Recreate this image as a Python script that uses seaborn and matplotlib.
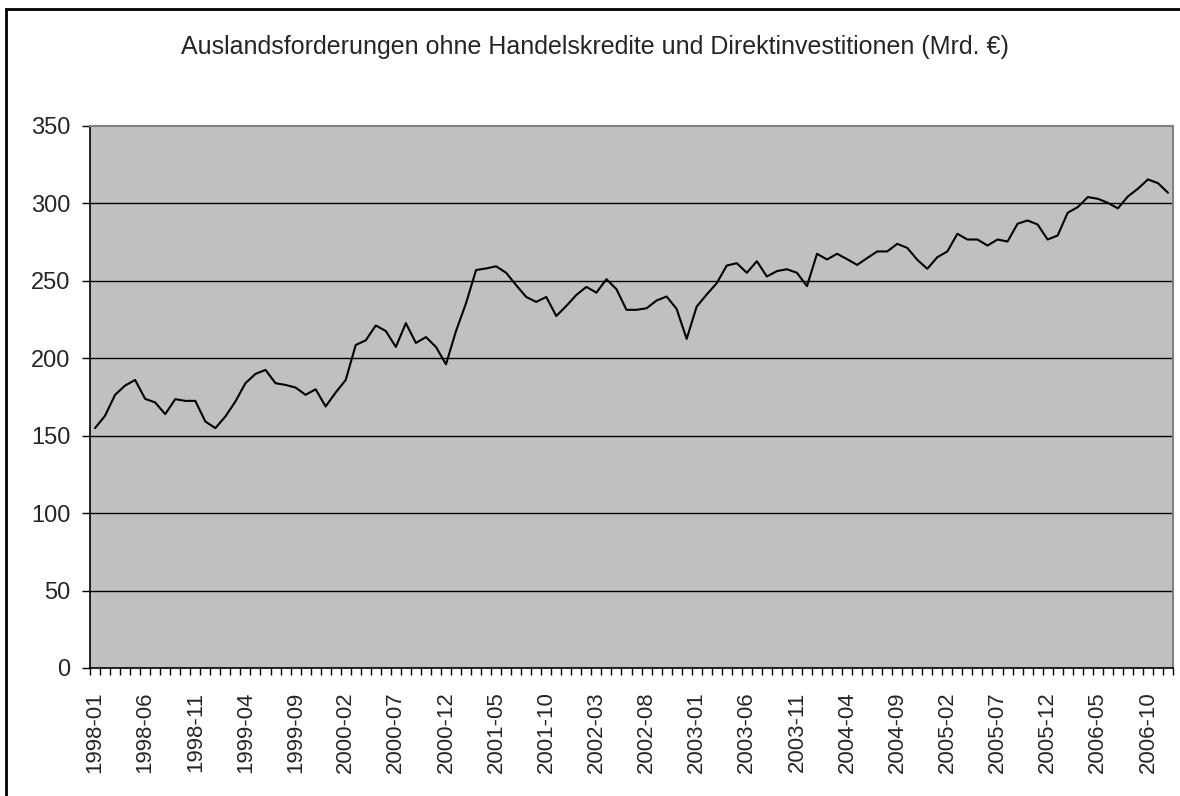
import numpy as np
import pandas as pd
import matplotlib
matplotlib.use("Agg")
import matplotlib.pyplot as plt
from matplotlib.patches import Rectangle
from matplotlib.ticker import FixedLocator, NullFormatter
import seaborn as sns

# ---- data ----
months = pd.period_range("1998-01", "2006-12", freq="M").strftime("%Y-%m").tolist()
values = [
    154.9, 162.9, 176.4, 182.4, 186.0, 173.8, 171.5, 163.9, 173.6, 172.5,
    172.5, 159.2, 154.9, 162.4, 172.1, 183.9, 189.9, 192.5, 183.9, 182.8,
    181.1, 176.4, 180.0, 168.9, 177.9, 186.0, 208.6, 211.6, 221.2, 217.6,
    207.3, 222.7, 209.9, 213.7, 207.3, 196.1, 217.6, 235.6, 257.0, 258.0,
    259.4, 255.2, 247.2, 239.6, 236.4, 239.6, 227.3, 233.8, 240.9, 246.1,
    242.4, 251.1, 244.6, 231.3, 231.3, 232.3, 237.3, 239.9, 231.9, 212.5,
    233.4, 241.2, 248.5, 259.9, 261.4, 255.2, 262.7, 252.8, 256.3, 257.5,
    255.2, 246.6, 267.5, 263.8, 267.5, 264.0, 260.3, 264.7, 269.0, 269.0,
    273.9, 271.3, 263.6, 257.8, 265.3, 269.0, 280.4, 276.7, 276.7, 272.8,
    276.7, 275.4, 286.9, 289.0, 286.4, 276.7, 279.3, 294.0, 297.6, 304.1,
    303.0, 300.4, 296.8, 304.5, 309.5, 315.5, 313.1, 306.9,
]
y_ticks = [0, 50, 100, 150, 200, 250, 300, 350]
title = "Auslandsforderungen ohne Handelskredite und Direktinvestitionen (Mrd. €)"

df = pd.DataFrame({"pos": np.arange(len(months)), "month": months, "value": values})

sns.set_style("white")
plt.rcParams["font.family"] = ["Liberation Sans", "DejaVu Sans"]

W, H = 1180, 796
fig = plt.figure(figsize=(W / 100, H / 100), dpi=100)
fig.patch.set_facecolor("white")

left, right, top, bottom = 90, 1173, 126, 668
ax = fig.add_axes([left / W, 1 - bottom / H, (right - left) / W, (bottom - top) / H])
ax.set_facecolor("#C0C0C0")

# gridlines
for v in y_ticks[1:-1]:
    ax.axhline(v, color="black", lw=1.0, zorder=1)

sns.lineplot(data=df, x="pos", y="value", color="black", linewidth=1.5, ax=ax, zorder=3)

ax.set_xlim(-0.5, len(months) - 0.5)
ax.set_ylim(0, 350)
ax.set_xlabel("")
ax.set_ylabel("")

# y axis
ax.set_yticks(y_ticks)
ax.set_yticklabels([str(v) for v in y_ticks], fontsize=17)
ax.tick_params(axis="y", direction="out", length=5.8, width=1, color="black", pad=8.5, left=True)

# x axis
label_pos = df["pos"][::5].tolist()
ax.set_xticks(label_pos)
ax.set_xticklabels(df["month"][::5].tolist(), rotation=90, fontsize=16)
ax.tick_params(axis="x", which="major", length=0, pad=17, bottom=True)
ax.xaxis.set_minor_locator(FixedLocator(np.arange(-0.5, len(months), 1.0)))
ax.xaxis.set_minor_formatter(NullFormatter())
ax.tick_params(axis="x", which="minor", direction="out", length=5, width=1, color="black", bottom=True)

for s in ["left", "bottom"]:
    ax.spines[s].set_color("black")
    ax.spines[s].set_linewidth(1.2)
for s in ["top", "right"]:
    ax.spines[s].set_color("#808080")
    ax.spines[s].set_linewidth(1.5)

fig.text(595 / W, 1 - 47 / H, title, ha="center", va="center", fontsize=18)

# chart-area border (left and top visible)
fig.patches.append(Rectangle((6 / W, -0.1), 1.2, 1 - 9 / H + 0.1, transform=fig.transFigure,
                             fill=False, edgecolor="black", linewidth=2, zorder=10))

fig.savefig("out.png", dpi=100, facecolor="white")
